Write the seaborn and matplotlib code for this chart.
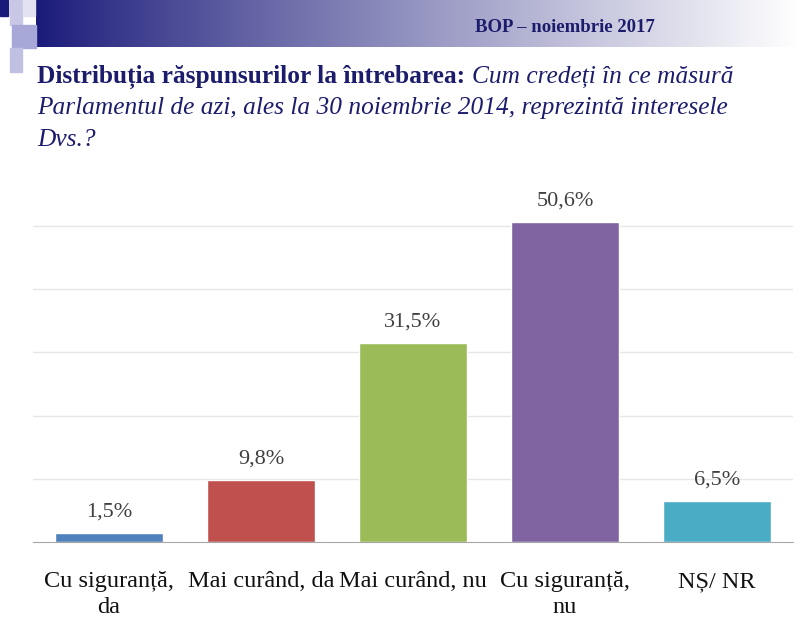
import numpy as np
import pandas as pd
import matplotlib
matplotlib.use("Agg")
import matplotlib.pyplot as plt
from matplotlib.patches import Rectangle
import seaborn as sns

# ---- data ----
categories = ["Cu siguranță,\nda", "Mai curând, da", "Mai curând, nu", "Cu siguranță,\nnu", "NȘ/ NR"]
values = [1.5, 9.8, 31.5, 50.6, 6.5]
labels = ["1,5%", "9,8%", "31,5%", "50,6%", "6,5%"]
colors = ["#4f81bd", "#c0504d", "#9bbb59", "#8064a2", "#4bacc6"]

df = pd.DataFrame({"cat": categories, "val": values})

sns.set_style("white")
plt.rcParams["font.family"] = ["Liberation Serif", "DejaVu Serif"]

fig = plt.figure(figsize=(8, 6.42), dpi=100)
NAVY = "#1c1c6c"

# ---- slide header: gradient band + checker squares ----
hax = fig.add_axes([36 / 800, 1 - 47 / 642, 1 - 36 / 800, 47 / 642])
grad = np.linspace(0, 1, 256)
c0 = np.array([0x1a, 0x1a, 0x7a]) / 255
c1 = np.array([1.0, 1.0, 1.0])
w = grad ** 0.9
img = (c0[None, :] * (1 - w[:, None]) + c1[None, :] * w[:, None])[None, :, :]
hax.imshow(img, aspect="auto", extent=[0, 1, 0, 1])
hax.set_axis_off()

def px_rect(x, y, w, h, color):
    fig.patches.append(Rectangle((x / 800, 1 - (y + h) / 642), w / 800, h / 642,
                                 transform=fig.transFigure, color=color, zorder=0))

px_rect(0, 0, 8, 16, "#1a1a7a")
px_rect(10, 0, 12, 25, "#c8c8e6")
px_rect(23, 0, 12, 16, "#e2e2f2")
px_rect(12, 25, 24, 23, "#a8a8d8")
px_rect(10, 48, 12, 24, "#c0c0e2")

fig.text(565 / 800, 1 - 27 / 642, "BOP – noiembrie 2017", ha="center", va="center",
         fontsize=13.5, fontweight="bold", color=NAVY)

# ---- title with bold + italic parts ----
TS = 18.3
t1 = fig.text(37 / 800, 1 - 77 / 642, "Distribuția răspunsurilor la întrebarea: ",
              fontsize=TS, fontweight="bold", color=NAVY, va="center")
fig.canvas.draw()
bb = t1.get_window_extent(fig.canvas.get_renderer())
fig.text(bb.x1 / fig.bbox.width, 1 - 77 / 642, "Cum credeți în ce măsură",
         fontsize=TS, style="italic", color=NAVY, va="center")
fig.text(37 / 800, 1 - 108 / 642,
         "Parlamentul de azi, ales la 30 noiembrie 2014, reprezintă interesele",
         fontsize=TS, style="italic", color=NAVY, va="center")
fig.text(37 / 800, 1 - 140 / 642, "Dvs.?", fontsize=TS, style="italic",
         color=NAVY, va="center")

# ---- bar chart ----
ax = fig.add_axes([33 / 800, 1 - 542 / 642, 760 / 800, (542 - 188) / 642])
sns.barplot(data=df, x="cat", y="val", hue="cat", palette=colors, legend=False,
            width=0.71, ax=ax, saturation=1)
ax.set_ylim(0, 56)
ax.set_xlim(-0.5, len(categories) - 0.5)
ax.set_yticks([10, 20, 30, 40, 50])
ax.yaxis.grid(True, color="#e6e6e6", linewidth=1)
ax.set_axisbelow(True)
ax.tick_params(axis="y", left=False, labelleft=False)
for s in ["left", "top", "right"]:
    ax.spines[s].set_visible(False)
ax.spines["bottom"].set_color("#a6a6a6")
ax.set_xlabel("")
ax.set_ylabel("")
ax.set_xticks(range(len(categories)))
ax.set_xticklabels(categories, fontsize=17.5, color="#111111", linespacing=1.3, va="top")
ax.set_xticks(np.arange(-0.5, len(categories), 1), minor=True)
ax.tick_params(axis="x", which="major", length=0, pad=21)
ax.tick_params(axis="x", which="minor", length=8, color="#a6a6a6", direction="out")

for i, (v, lab) in enumerate(zip(values, labels)):
    ax.annotate(lab, (i, v), xytext=(0, 8), textcoords="offset points",
                ha="center", va="bottom", fontsize=16, color="#404040")

fig.savefig("out.png", dpi=100, facecolor="white")
